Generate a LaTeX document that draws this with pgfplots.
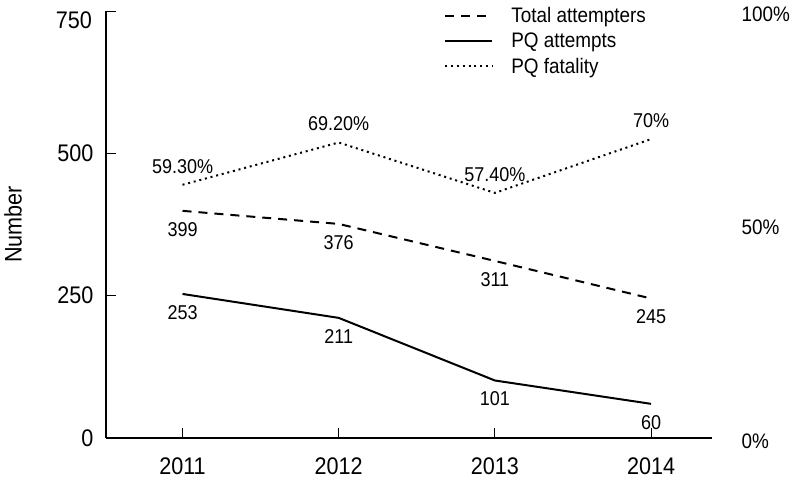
\documentclass[border=0pt]{standalone}
\usepackage{pgfplots}
\pgfplotsset{compat=1.18}
\usepackage{fontspec}
\setmainfont{Liberation Sans}[FakeStretch=0.9]
\newcommand{\fs}[1]{\fontsize{#1bp}{#1bp}\selectfont}
\begin{document}
\begin{tikzpicture}
\useasboundingbox (0,0) rectangle (793bp,478bp);
\begin{axis}[
  at={(106bp,40bp)}, anchor=south west,
  scale only axis, width=606bp, height=427bp,
  xmin=2010.51, xmax=2014.39, ymin=0, ymax=750,
  axis x line=bottom, axis y line=left,
  axis line style={-, line width=1.1bp},
  tick align=inside, major tick length=10bp,
  tick style={line width=1bp, black},
  /pgf/number format/assume math mode=true,
  xtick={2011,2012,2013,2014},
  xticklabels={2011,2012,2013,2014},
  ytick={0,250,500,750},
  yticklabels={0,250,500,{}},
  ticklabel style={font=\fs{24}},
  xticklabel style={yshift=-16bp},
  yticklabel style={xshift=-9bp},
  ylabel={Number},
  every axis y label/.style={at={(rel axis cs:0,0.5)}, xshift=-93bp, rotate=90, anchor=center, font=\fs{24}},
  legend style={draw=none, fill=none, font=\fs{21}, at={(0.558,1.014)}, anchor=north west,
    row sep=5bp, inner sep=0pt, legend cell align=left},
  legend image code/.code={\draw[#1] (0bp,0bp) -- (47bp,0bp); \path (63bp,0bp);},
  nodes near coords, point meta=explicit symbolic,
  every node near coord/.append style={font=\fs{20}, black, anchor=north, yshift=-7bp},
  clip=false,
]
\addlegendimage{line width=2bp, dash pattern=on 9bp off 7bp}
\addlegendentry{Total attempters}
\addlegendimage{line width=2bp}
\addlegendentry{PQ attempts}
\addlegendimage{line width=2bp, dash pattern=on 2bp off 3.8bp}
\addlegendentry{PQ fatality}
\addplot[line width=2bp, dash pattern=on 9bp off 7bp] coordinates {
  (2011,399) [399] (2012,376) [376] (2013,311) [311] (2014,245) [245]};
\addplot[line width=2bp] coordinates {
  (2011,253) [253] (2012,211) [211] (2013,101) [101] (2014,60) [60]};
\node[font=\fs{24}, anchor=east, inner sep=0pt] at ([xshift=-14bp,yshift=-9bp]rel axis cs:0,1) {750};
\end{axis}
\begin{axis}[
  at={(106bp,40bp)}, anchor=south west,
  scale only axis, width=606bp, height=427bp,
  xmin=2010.51, xmax=2014.39, ymin=0, ymax=100,
  hide x axis,
  axis y line*=right,
  y axis line style={draw=none},
  ytick style={draw=none},
  ytick={0,50,100}, yticklabels={0\%,50\%,100\%},
  yticklabel style={font=\fs{21}, anchor=west, xshift=26bp, yshift=-3bp},
  nodes near coords, point meta=explicit symbolic,
  every node near coord/.append style={font=\fs{20}, black, anchor=south, yshift=7bp},
  clip=false,
]
\addplot[line width=2bp, dash pattern=on 2bp off 3.8bp] coordinates {
  (2011,59.3) [59.30\%] (2012,69.2) [69.20\%] (2013,57.4) [57.40\%] (2014,70) [70\%]};
\end{axis}
\end{tikzpicture}
\end{document}
